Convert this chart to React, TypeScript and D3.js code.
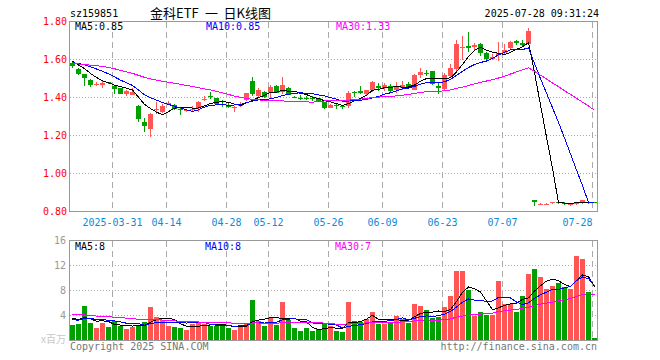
import React from "react";
import * as d3 from "d3";

// ---------- data ----------
const dates = [
  "2025-03-20","2025-03-21","2025-03-24","2025-03-25","2025-03-26","2025-03-27","2025-03-28","2025-03-31",
  "2025-04-01","2025-04-02","2025-04-03","2025-04-07","2025-04-08","2025-04-09","2025-04-10","2025-04-11",
  "2025-04-14","2025-04-15","2025-04-16","2025-04-17","2025-04-18","2025-04-21","2025-04-22","2025-04-23","2025-04-24","2025-04-25",
  "2025-04-28","2025-04-29","2025-04-30",
  "2025-05-06","2025-05-07","2025-05-08","2025-05-09",
  "2025-05-12","2025-05-13","2025-05-14","2025-05-15","2025-05-16",
  "2025-05-19","2025-05-20","2025-05-21","2025-05-22","2025-05-23",
  "2025-05-26","2025-05-27","2025-05-28","2025-05-29","2025-05-30",
  "2025-06-03","2025-06-04","2025-06-05","2025-06-06",
  "2025-06-09","2025-06-10","2025-06-11","2025-06-12","2025-06-13",
  "2025-06-16","2025-06-17","2025-06-18","2025-06-19","2025-06-20",
  "2025-06-23","2025-06-24","2025-06-25","2025-06-26","2025-06-27",
  "2025-06-30",
  "2025-07-01","2025-07-02","2025-07-03","2025-07-04",
  "2025-07-07","2025-07-08","2025-07-09","2025-07-10","2025-07-11",
  "2025-07-14","2025-07-15","2025-07-16","2025-07-17","2025-07-18",
  "2025-07-21","2025-07-22","2025-07-23","2025-07-24","2025-07-25",
  "2025-07-28",
];

const open = [
  1.581,1.551,1.523,1.493,1.470,1.466,1.480,1.458,1.449,1.419,
  1.412,1.353,1.272,1.230,1.338,1.325,1.368,1.362,1.342,1.330,
  1.332,1.340,1.391,1.406,1.395,1.365,1.355,1.342,1.358,1.391,
  1.489,1.405,1.430,1.426,1.463,1.432,1.451,1.404,1.400,1.400,
  1.398,1.395,1.375,1.347,1.358,1.353,1.356,1.428,1.433,1.414,
  1.440,1.461,1.454,1.461,1.437,1.451,1.472,1.444,1.517,1.528,
  1.538,1.460,1.442,1.514,1.547,1.664,1.670,1.665,1.683,1.635,
  1.604,1.621,1.632,1.656,1.695,1.685,1.683,0.863,0.838,0.838,
  0.847,0.851,0.846,0.836,0.842,0.840,0.850,0.850,
];
const high = [
  1.588,1.556,1.525,1.495,1.480,1.490,1.483,1.462,1.452,1.442,
  1.449,1.358,1.290,1.320,1.374,1.365,1.380,1.368,1.345,1.340,
  1.355,1.380,1.410,1.430,1.398,1.385,1.370,1.355,1.375,1.426,
  1.510,1.450,1.432,1.465,1.468,1.510,1.453,1.410,1.412,1.410,
  1.410,1.398,1.378,1.365,1.372,1.362,1.436,1.436,1.458,1.440,
  1.488,1.475,1.475,1.472,1.480,1.485,1.479,1.525,1.555,1.545,
  1.542,1.480,1.528,1.575,1.705,1.723,1.745,1.687,1.687,1.637,
  1.630,1.690,1.680,1.700,1.705,1.705,1.768,0.863,0.845,0.845,
  0.852,0.855,0.852,0.845,0.850,0.862,0.852,0.852,
];
const low = [
  1.557,1.516,1.459,1.455,1.462,1.452,1.470,1.416,1.418,1.410,
  1.412,1.270,1.220,1.190,1.313,1.318,1.360,1.335,1.310,1.325,
  1.325,1.322,1.380,1.392,1.358,1.350,1.345,1.322,1.350,1.382,
  1.410,1.400,1.395,1.400,1.425,1.420,1.414,1.398,1.386,1.388,
  1.384,1.378,1.340,1.345,1.342,1.338,1.345,1.405,1.418,1.410,
  1.430,1.435,1.435,1.428,1.425,1.440,1.445,1.437,1.505,1.512,
  1.465,1.420,1.437,1.507,1.540,1.595,1.642,1.650,1.617,1.590,
  1.597,1.590,1.630,1.650,1.675,1.665,1.680,0.830,0.833,0.835,
  0.840,0.840,0.835,0.828,0.835,0.838,0.842,0.843,
];
const close = [
  1.563,1.523,1.502,1.465,1.473,1.475,1.473,1.442,1.420,1.435,
  1.428,1.284,1.251,1.311,1.342,1.355,1.371,1.340,1.338,1.334,
  1.338,1.374,1.394,1.403,1.362,1.362,1.352,1.349,1.367,1.426,
  1.423,1.437,1.402,1.453,1.428,1.468,1.414,1.402,1.397,1.398,
  1.395,1.380,1.346,1.363,1.355,1.350,1.426,1.425,1.423,1.437,
  1.480,1.449,1.468,1.435,1.454,1.468,1.451,1.521,1.534,1.525,
  1.470,1.450,1.518,1.556,1.679,1.668,1.660,1.678,1.638,1.603,
  1.612,1.632,1.650,1.690,1.685,1.675,1.749,0.855,0.840,0.840,
  0.849,0.849,0.844,0.838,0.846,0.858,0.846,0.846,
];
// volume, millions of shares
const volume = [
  2.45,2.72,5.49,2.82,1.97,2.77,2.13,3.09,2.40,1.81,
  2.13,2.40,3.04,5.33,3.73,3.25,2.34,2.13,1.97,1.65,
  2.72,2.93,2.72,2.40,2.29,2.61,2.02,1.65,2.34,2.72,
  6.45,3.20,2.29,3.73,2.45,6.13,3.36,1.97,1.49,1.97,
  1.49,1.81,2.72,2.30,1.54,1.38,6.13,3.09,2.98,3.52,
  4.53,2.72,2.70,2.98,3.89,3.52,2.85,5.86,5.49,4.85,
  3.62,3.78,5.38,7.20,11.10,11.10,8.05,3.94,4.58,4.05,
  4.05,9.49,5.90,5.90,4.50,7.10,10.60,11.40,10.13,8.32,
  8.69,9.17,8.53,8.32,13.49,13.00,7.78,0.42,
];
// sessions before the visible window (only feed the moving averages)
const priorCloses = [
  1.56,1.58,1.57,1.56,1.58,
  1.63,1.66,1.68,1.67,1.66,
  1.60,1.57,1.55,1.54,1.54,
  1.52,1.50,1.50,1.51,1.52,
  1.56,1.57,1.58,1.58,1.59,
  1.615,1.60,1.59,1.58,
];
const priorVolumes = [
  6.0,5.5,5.6,
  4.5,4.2,4.2,
  4.8,4.6,4.5,4.5,
  5.0,4.8,4.9,4.8,4.8,4.8,
  3.9,3.8,3.9,3.8,
  3.0,2.9,3.1,3.0,3.0,
  3.9,3.8,3.9,3.9,
];

const priceTicks = [1.8, 1.6, 1.4, 1.2, 1.0, 0.8];
const volTicks = [16, 12, 8, 4];
const dateTicks = ["2025-03-31","2025-04-14","2025-04-28","2025-05-12","2025-05-26","2025-06-09","2025-06-23","2025-07-07","2025-07-28"];
const dateTickLabels = ["2025-03-31","04-14","04-28","05-12","05-26","06-09","06-23","07-07","07-28"];
const maPeriods = [5, 10, 30];
const maColors = ["#000000", "#0000ff", "#ff00ff"];

const symbol = "sz159851";
const titleParts = ["金科ETF", "一", "日K线图"];
const stamp = "2025-07-28 09:31:24";

// ---------- helpers ----------
function movingAvg(series: number[], prior: number[], n: number): number[] {
  const all = prior.concat(series);
  const off = prior.length;
  return series.map((_, i) => d3.mean(all.slice(off + i - n + 1, off + i + 1)) as number);
}

const RED = "#ff5555";
const GREEN = "#00a000";
const MONO = "'DejaVu Sans Mono', monospace";
const CJK = "'Noto Sans CJK SC', sans-serif";

export default function App() {
  const N = dates.length;
  const x = d3.scaleBand<number>().domain(d3.range(N)).range([70, 597]).paddingInner(1 / 6).paddingOuter(0);
  const bw = x.bandwidth();
  const yP = d3.scaleLinear().domain([0.8, 1.8]).range([211.5, 21.5]);
  const yV = d3.scaleLinear().domain([0, 16]).range([340.5, 240.5]);
  const cx = (i: number) => (x(i) as number) + Math.floor(bw / 2) + 0.5;

  const up = (i: number) => close[i] >= open[i];

  const priceMAs = maPeriods.map((p) => movingAvg(close, priorCloses, p));
  const volMAs = maPeriods.map((p) => movingAvg(volume, priorVolumes, p));

  const linePrice = d3.line<number>().x((_, i) => cx(i)).y((d) => yP(d));
  const lineVol = d3.line<number>().x((_, i) => cx(i)).y((d) => yV(d));

  const gridXs = dateTicks.map((d) => dates.indexOf(d)).map((i) => (x(i) as number) + 0.5);

  return (
    <svg
      width={660}
      height={360}
      style={{ position: "absolute", left: 0, top: 0, background: "#fff" }}
      fontFamily={MONO}
    >
      <rect x={0} y={0} width={660} height={360} fill="#fff" />
      {/* header */}
      <text x={70} y={17} fontSize={10} fill="#000">{symbol}</text>
      <text x={150} y={18} fontSize={13} fill="#000" fontFamily={CJK}>{titleParts[0]}</text>
      <text x={205} y={18} fontSize={13} fill="#000" fontFamily={CJK}>{titleParts[1]}</text>
      <text x={271} y={18} fontSize={13} fill="#000" fontFamily={CJK} textAnchor="end">{titleParts[2]}</text>
      <text x={599} y={17} fontSize={10} fill="#000" textAnchor="end">{stamp}</text>

      {/* grids */}
      <g shapeRendering="crispEdges">
        {priceTicks.slice(1, -1).map((t) => (
          <line key={"hp" + t} x1={70} x2={597} y1={yP(t)} y2={yP(t)} stroke="#aaa" strokeDasharray="1,2" />
        ))}
        {gridXs.map((gx, k) => (
          <line key={"vp" + k} x1={gx} x2={gx} y1={21.5} y2={211.5} stroke="#aaa" strokeDasharray="6,4" />
        ))}
        {volTicks.slice(1).map((t) => (
          <line key={"hv" + t} x1={70} x2={597} y1={yV(t)} y2={yV(t)} stroke="#aaa" strokeDasharray="1,2" />
        ))}
        {gridXs.map((gx, k) => (
          <line key={"vv" + k} x1={gx} x2={gx} y1={240.5} y2={340.5} stroke="#aaa" strokeDasharray="6,4" />
        ))}
      </g>

      {/* candles */}
      <g shapeRendering="crispEdges">
        {close.map((c, i) => {
          const col = up(i) ? RED : GREEN;
          const top = yP(Math.max(open[i], c));
          const bot = yP(Math.min(open[i], c));
          const h = Math.max(1, Math.round(bot - top));
          return (
            <g key={"c" + i}>
              <line x1={cx(i)} x2={cx(i)} y1={yP(high[i])} y2={yP(low[i])} stroke={col} />
              <rect x={x(i)} y={Math.round(top)} width={bw} height={h} fill={col} />
            </g>
          );
        })}
      </g>

      {/* price MAs */}
      <g fill="none" shapeRendering="crispEdges">
        {priceMAs.map((m, k) => (
          <path key={"pm" + k} d={linePrice(m) as string} stroke={maColors[k]} strokeWidth={1} />
        ))}
      </g>

      {/* volume bars */}
      <g shapeRendering="crispEdges">
        {volume.map((v, i) => (
          <rect key={"v" + i} x={x(i)} y={yV(v)} width={bw} height={340.5 - yV(v)} fill={up(i) ? RED : GREEN} />
        ))}
      </g>
      <g fill="none" shapeRendering="crispEdges">
        {volMAs.map((m, k) => (
          <path key={"vm" + k} d={lineVol(m) as string} stroke={maColors[k]} strokeWidth={1} />
        ))}
      </g>

      {/* frames */}
      <g fill="none" stroke="#999" shapeRendering="crispEdges">
        <rect x={69.5} y={21.5} width={528} height={190} />
        <rect x={69.5} y={240.5} width={528} height={100} />
      </g>

      {/* MA labels */}
      {maPeriods.map((p, k) => (
        <text key={"pl" + k} x={[75, 206, 336][k]} y={30} fontSize={10} fill={maColors[k]}>
          {`MA${p}:${priceMAs[k][N - 1].toFixed(2)}`}
        </text>
      ))}
      {maPeriods.map((p, k) => (
        <text key={"vl" + k} x={[75, 205, 335][k]} y={250} fontSize={10} fill={maColors[k]}>
          {`MA${p}:${Math.floor(volMAs[k][N - 1])}`}
        </text>
      ))}

      {/* price axis labels */}
      {priceTicks.map((t) => (
        <text key={"pt" + t} x={67} y={yP(t) + 3.6} fontSize={10} fill="#f00" textAnchor="end">
          {t.toFixed(2)}
        </text>
      ))}
      {/* volume axis labels */}
      {volTicks.map((t) => (
        <text key={"vt" + t} x={66} y={yV(t) + 3.6} fontSize={10} fill="#999" textAnchor="end">
          {t}
        </text>
      ))}
      <text x={66} y={343} fontSize={10} fill="#c8c8c8" textAnchor="end" fontFamily={CJK}>x百万</text>

      {/* date labels */}
      {dateTicks.map((d, k) => {
        const gx = gridXs[k];
        const last = k === dateTicks.length - 1;
        return (
          <text key={"dt" + d} x={gx} y={225.5} fontSize={10} fill="#0e8ad8" textAnchor={last ? "end" : "middle"}>
            {dateTickLabels[k]}
          </text>
        );
      })}

      {/* footer */}
      <text x={70} y={349.5} fontSize={10} fill="#777">Copyright 2025 SINA.COM</text>
      <text x={597} y={349.5} fontSize={10} fill="#777" textAnchor="end">http://finance.sina.com.cn</text>
    </svg>
  );
}
